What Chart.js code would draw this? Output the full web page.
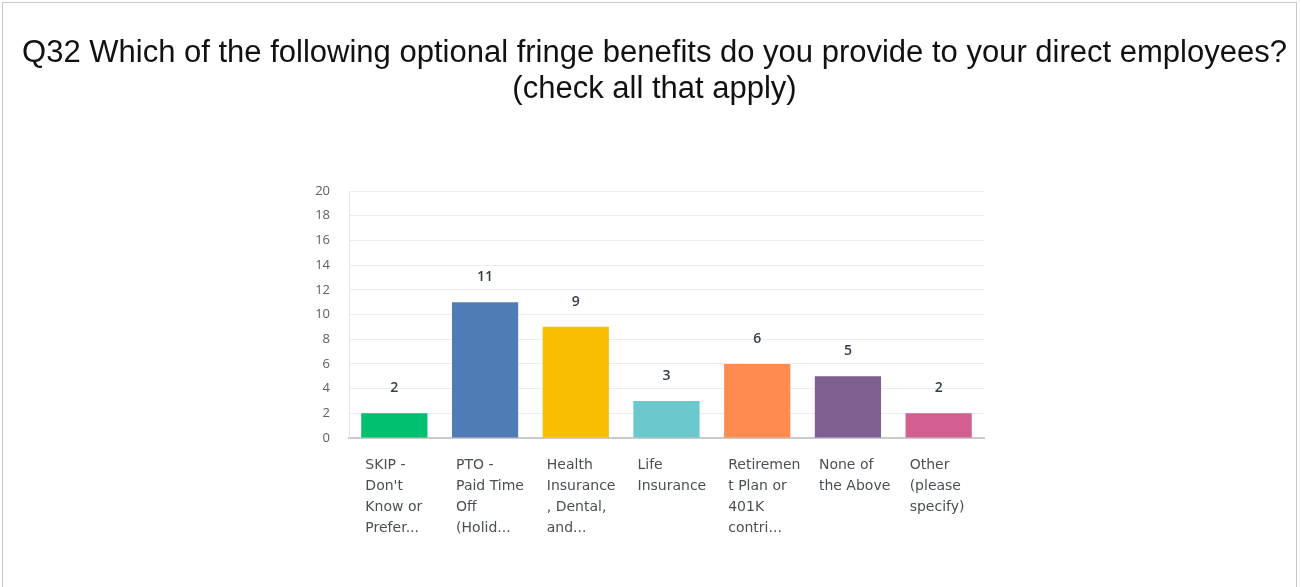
<!DOCTYPE html>
<html>
<head>
<meta charset="utf-8">
<script src="https://cdn.jsdelivr.net/npm/chart.js@4"></script>
<style>
  html, body { margin: 0; padding: 0; background: #fff; }
  #frame {
    position: absolute; left: 2px; top: 2px;
    width: 1295px; height: 600px;
    border: 1px solid #c8c8c8; box-sizing: border-box;
  }
  #wrap { position: absolute; left: 0; top: 0; width: 1301px; height: 587px; }
</style>
</head>
<body>
<div id="frame"></div>
<div id="wrap"><canvas id="benefitsChart"></canvas></div>
<script>
const titleLines = [
    'Q32 Which of the following optional fringe benefits do you provide to your direct employees?',
    '(check all that apply)'
];
const categories = [
    ['SKIP -', "Don't", 'Know or', 'Prefer...'],
    ['PTO -', 'Paid Time', 'Off', '(Holid...'],
    ['Health', 'Insurance', ', Dental,', 'and...'],
    ['Life', 'Insurance'],
    ['Retiremen', 't Plan or', '401K', 'contri...'],
    ['None of', 'the Above'],
    ['Other', '(please', 'specify)']
];
const counts = [2, 11, 9, 3, 6, 5, 2];
const barColors = ['#00bf6f', '#507cb6', '#f9be00', '#6bc8cd', '#ff8b4f', '#7f5f90', '#d25f90'];
const yTicks = [0, 2, 4, 6, 8, 10, 12, 14, 16, 18, 20];

const uiFont = "'Open Sans', sans-serif";

// the question text spans wider than the plot, so it is drawn across the full canvas
const wideTitle = {
    id: 'wideTitle',
    afterDraw(chart) {
        const ctx = chart.ctx;
        ctx.save();
        ctx.font = "31px 'Liberation Sans', Arial, sans-serif";
        ctx.fillStyle = '#111';
        ctx.textAlign = 'center';
        ctx.textBaseline = 'middle';
        titleLines.forEach(function(line, i) {
            ctx.fillText(line, chart.width / 2 + 4, 53 + i * 36);
        });
        ctx.restore();
    }
};

// writes the count above each bar
const valueLabels = {
    id: 'valueLabels',
    afterDatasetsDraw(chart) {
        const ctx = chart.ctx;
        const meta = chart.getDatasetMeta(0);
        ctx.save();
        ctx.font = '600 14px ' + uiFont;
        ctx.fillStyle = '#333e48';
        ctx.textAlign = 'center';
        ctx.textBaseline = 'middle';
        meta.data.forEach(function(bar, i) {
            ctx.fillText(String(counts[i]), bar.x, bar.y - 25);
        });
        ctx.restore();
    }
};

const ctx = document.getElementById('benefitsChart').getContext('2d');
new Chart(ctx, {
    type: 'bar',
    data: {
        labels: categories,
        datasets: [{
            data: counts,
            backgroundColor: barColors,
            borderWidth: 0,
            barPercentage: 0.73,
            categoryPercentage: 1
        }]
    },
    options: {
        responsive: true,
        maintainAspectRatio: false,
        animation: false,
        layout: { padding: { top: 191, left: 299, right: 317, bottom: 0 } },
        plugins: {
            legend: { display: false },
            tooltip: { enabled: false },
            title: { display: false }
        },
        scales: {
            x: {
                grid: { display: false, drawTicks: false },
                border: { color: '#c9c9c9', width: 2 },
                afterFit(scale) { scale.height = 149; },
                ticks: {
                    align: 'start',
                    labelOffset: -29,
                    padding: 17,
                    maxRotation: 0,
                    autoSkip: false,
                    color: '#4a4f55',
                    font: { family: "'DejaVu Sans', sans-serif", size: 14, lineHeight: 1.5 }
                }
            },
            y: {
                min: 0,
                max: 20,
                afterBuildTicks(scale) {
                    scale.ticks = yTicks.map(v => ({ value: v }));
                },
                afterFit(scale) { scale.width = 50; },
                grid: { color: '#ececec', lineWidth: 1, drawTicks: false },
                border: { color: '#e6e6e6' },
                ticks: {
                    padding: 19,
                    color: '#5a6066',
                    font: { family: uiFont, size: 13 }
                }
            }
        }
    },
    plugins: [valueLabels, wideTitle]
});
</script>
</body>
</html>
